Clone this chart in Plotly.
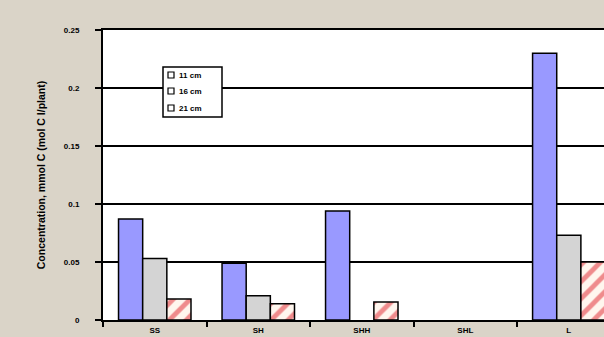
import plotly.graph_objects as go

categories = ["SS", "SH", "SHH", "SHL", "L"]
series_names = ["11 cm", "16 cm", "21 cm"]
s11 = [0.087, 0.049, 0.094, None, 0.230]
s16 = [0.053, 0.021, None, None, 0.073]
s21 = [0.018, 0.014, 0.0155, None, 0.050]
y_ticks = [0, 0.05, 0.1, 0.15, 0.2, 0.25]
y_ticktext = ["0", "0.05", "0.1", "0.15", "0.2", "0.25"]
y_title = "Concentration, mmol C (mol C l/plant)"

colors = ["#9999ff", "#d4d4d4", "#fff6ee"]

W, H = 604, 337
L, R, T, B = 103, 0, 30, 17
PW, PH = W - L - R, H - T - B


def px2x(px):
    return (px - L) / PW


def px2y(py):
    return (H - B - py) / PH


fig = go.Figure()
fig.add_trace(go.Bar(x=categories, y=s11, name=series_names[0],
                     marker=dict(color=colors[0], line=dict(color="#000000", width=1.5))))
fig.add_trace(go.Bar(x=categories, y=s16, name=series_names[1],
                     marker=dict(color=colors[1], line=dict(color="#000000", width=1.5))))
fig.add_trace(go.Bar(x=categories, y=s21, name=series_names[2],
                     marker=dict(color=colors[2], line=dict(color="#000000", width=1.5),
                                 pattern=dict(shape="/", fgcolor="#e0202a", bgcolor=colors[2],
                                              size=12, solidity=0.4))))

# custom compact legend
shapes = [dict(type="rect", xref="paper", yref="paper",
               x0=px2x(163), x1=px2x(222), y0=px2y(117), y1=px2y(67),
               line=dict(color="#000000", width=1.5), fillcolor="#ffffff", layer="above")]
annotations = []
row_y = [75, 91, 108]
for i, name in enumerate(series_names):
    yc = row_y[i]
    shapes.append(dict(type="rect", xref="paper", yref="paper",
                       x0=px2x(168), x1=px2x(174), y0=px2y(yc + 3), y1=px2y(yc - 3),
                       line=dict(color="#000000", width=1.2), fillcolor="#ffffff",
                       layer="above"))
    annotations.append(dict(xref="paper", yref="paper", x=px2x(177), y=px2y(yc),
                            xanchor="left", yanchor="middle", showarrow=False,
                            text=name, font=dict(size=8, weight="bold", color="#000000")))

fig.update_layout(
    width=W, height=H,
    margin=dict(l=L, r=R, t=T, b=B),
    paper_bgcolor="#dad4c8",
    plot_bgcolor="#ffffff",
    barmode="group",
    bargap=0.3,
    bargroupgap=0.0,
    font=dict(family="Liberation Sans, Arial, sans-serif", size=7, color="#000000"),
    showlegend=False,
    shapes=shapes,
    annotations=annotations,
    xaxis=dict(range=[-0.5, 4.34], showline=True, linecolor="#000000", linewidth=2,
               mirror=True, ticks="outside", tickson="boundaries", ticklen=5,
               tickcolor="#000000", tickwidth=2, showgrid=False,
               ticklabelstandoff=1, automargin=False,
               tickfont=dict(size=8, weight="bold")),
    yaxis=dict(range=[0, 0.25], tickvals=y_ticks, ticktext=y_ticktext,
               showline=True, linecolor="#000000", linewidth=2,
               ticks="outside", ticklen=6, tickcolor="#000000", tickwidth=1.5,
               showgrid=True, gridcolor="#000000", gridwidth=2, zeroline=False,
               ticklabelstandoff=14, automargin=False,
               tickfont=dict(size=8, weight="bold"),
               title=dict(text=y_title, font=dict(size=10.5, weight="bold"), standoff=16)),
)

fig.write_html("out.html")
